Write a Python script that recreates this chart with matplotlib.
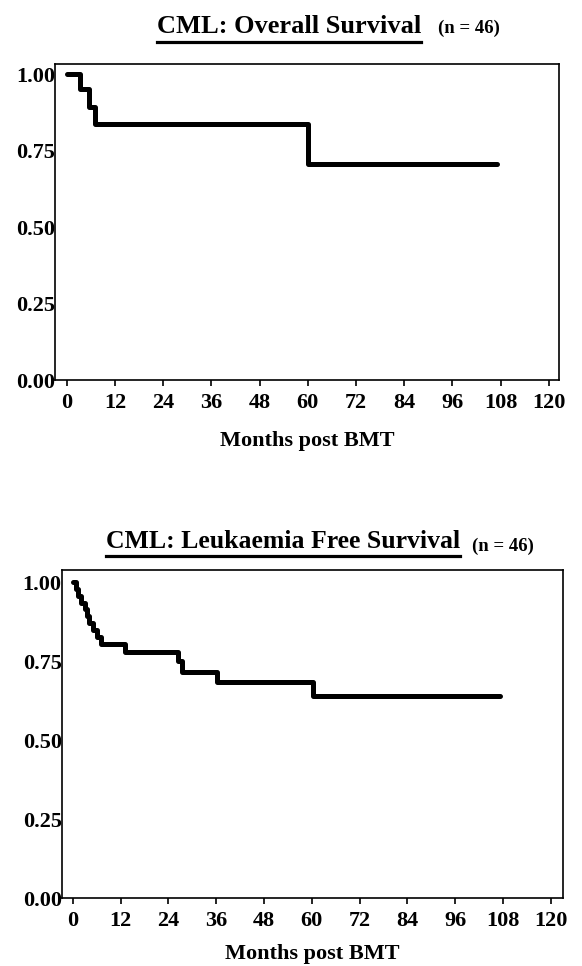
import matplotlib
matplotlib.use("Agg")
import matplotlib.pyplot as plt
from matplotlib.lines import Line2D

plt.rcParams['font.family'] = ['Liberation Serif', 'DejaVu Serif']
plt.rcParams['font.weight'] = 'bold'

# Overall survival (months post BMT, survival proportion)
os_months = [0, 3.3, 5.6, 7.0, 60.1, 107.0]
os_surv = [1.0, 0.95, 0.893, 0.835, 0.706, 0.706]

# Leukaemia free survival
lfs_months = [0, 0.8, 1.4, 2.2, 3.0, 3.6, 4.0, 5.2, 6.0, 7.0, 13.1, 26.5, 27.4, 36.1, 60.4, 107.2]
lfs_surv = [1.0, 0.978, 0.957, 0.935, 0.913, 0.891, 0.870, 0.848, 0.826, 0.804,
            0.779, 0.75, 0.716, 0.684, 0.639, 0.639]

x_ticks = list(range(0, 121, 12))
y_ticks = [0.0, 0.25, 0.5, 0.75, 1.0]
y_tick_labels = ['0.00', '0.25', '0.50', '0.75', '1.00']

W, H = 582, 966


def fig_box(left, top, right, bottom):
    """pixel box (from top left) -> figure fraction rect"""
    return [left / W, 1 - bottom / H, (right - left) / W, (bottom - top) / H]


def km_panel(ax, months, surv, xlim, ylim, labelpad):
    # survival curve drawn as a step function
    ax.step(months, surv, where='post', color='black', lw=3.6,
            solid_capstyle='round', solid_joinstyle='round')
    ax.set_xlim(*xlim)
    ax.set_ylim(*ylim)
    ax.set_xticks(x_ticks)
    ax.set_yticks(y_ticks)
    ax.set_yticklabels(y_tick_labels)
    ax.tick_params(axis='x', direction='out', length=4.5, width=1.2, pad=4.5, labelsize=16)
    ax.tick_params(axis='y', length=0, pad=0, labelsize=16)
    for s in ax.spines.values():
        s.set_linewidth(1.2)
    ax.set_xlabel('Months post BMT', fontsize=16, fontweight='bold', labelpad=labelpad)


def title(fig, text, n_text, x, baseline, n_x, n_baseline, underline_y, size):
    t = fig.text(x / W, 1 - baseline / H, text, fontsize=size, ha='left', va='baseline')
    fig.text(n_x / W, 1 - n_baseline / H, n_text, fontsize=13.5, ha='left', va='baseline')
    # underline the main title
    fig.canvas.draw()
    bb = t.get_window_extent()
    fig.add_artist(Line2D([bb.x0 / W, bb.x1 / W], [1 - underline_y / H] * 2,
                          transform=fig.transFigure, color='black', lw=2.3))


fig = plt.figure(figsize=(W / 100, H / 100), dpi=100)

ax1 = fig.add_axes(fig_box(55, 64, 559, 380))
km_panel(ax1, os_months, os_surv, (-2.9, 122.5), (0, 1.0327), 13.5)

ax2 = fig.add_axes(fig_box(61.7, 570, 563.3, 898))
km_panel(ax2, lfs_months, lfs_surv, (-2.76, 123.1), (0, 1.038), 10)

title(fig, 'CML: Overall Survival', '(n = 46)', 157, 33, 438, 33, 41.5, 19)
title(fig, 'CML: Leukaemia Free Survival', '(n = 46)', 106, 548, 472, 551, 556, 18.5)

fig.savefig('out.png', dpi=100)
